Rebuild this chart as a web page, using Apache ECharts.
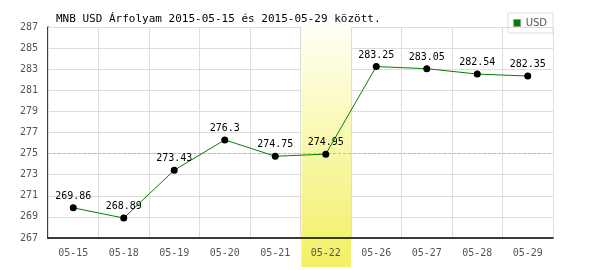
<!DOCTYPE html>
<html><head><meta charset="utf-8">
<script src="https://cdn.jsdelivr.net/npm/echarts@6/dist/echarts.min.js"></script>
<style>html,body{margin:0;padding:0;background:#fff}#c{width:600px;height:270px}</style>
</head><body><div id="c"></div>
<script>
const categories = ['05-15','05-18','05-19','05-20','05-21','05-22','05-26','05-27','05-28','05-29'];
const usdValues = [269.86, 268.89, 273.43, 276.3, 274.75, 274.95, 283.25, 283.05, 282.54, 282.35];
const yTicks = {min: 267, max: 287, interval: 2};
const averageLine = 275;
const highlightCategory = '05-22';
const titleText = 'MNB USD Árfolyam 2015-05-15 és 2015-05-29 között.';

const mono = 'DejaVu Sans Mono';
const chart = echarts.init(document.getElementById('c'));
chart.setOption({
  animation: false,
  title: {text: titleText, left: 51, top: 9, textStyle: {fontFamily: mono, fontSize: 11, fontWeight: 'normal', color: '#000'}},
  legend: {right: 47, top: 13, itemWidth: 7, itemHeight: 7, icon: 'rect', borderColor: '#ddd', borderWidth: 1, padding: [5,6,5,5],
    textStyle: {fontFamily: 'DejaVu Sans', fontSize: 10, color: '#555'}, itemGap: 2, data: [{name:'USD', itemStyle:{color:'#008000', borderColor:'#999', borderWidth:1}}]},
  grid: {left: 48, right: 47, top: 27, bottom: 32},
  xAxis: {type: 'category', data: categories, boundaryGap: true, z: 2,
    axisLine: {lineStyle: {color: '#000', width: 1.5}}, axisTick: {show: false},
    axisLabel: {fontFamily: mono, fontSize: 10, color: '#555', margin: 10},
    splitLine: {show: true, interval: 0, lineStyle: {color: '#ddd'}}},
  yAxis: {type: 'value', min: yTicks.min, max: yTicks.max, interval: yTicks.interval, z: 0,
    axisLine: {show: true, lineStyle: {color: '#000', width: 1.5}}, axisTick: {show: false},
    axisLabel: {fontFamily: mono, fontSize: 10, color: '#555', margin: 10},
    splitLine: {lineStyle: {color: '#ddd'}}},
  series: [{
    name: 'USD', type: 'line', data: usdValues, z: 5,
    lineStyle: {color: '#008000', width: 1}, itemStyle: {color: '#000'},
    symbol: 'circle', symbolSize: 7,
    label: {show: true, position: 'top', distance: 3, fontFamily: mono, fontSize: 10, color: '#000'}
  }, {
    name: 'avg', type: 'line', data: [], z: 0,
    markLine: {silent: true, symbol: 'none', label: {show: false}, lineStyle: {color: '#bbb', type: [3,2], width: 1}, data: [{yAxis: averageLine}]}
  }]
});
// highlight band for the selected day, extending below the axis
const x0 = chart.convertToPixel({xAxisIndex:0}, highlightCategory);
const yTop = chart.convertToPixel({yAxisIndex:0}, yTicks.max);
const yb = chart.convertToPixel({yAxisIndex:0}, yTicks.min);
const w = chart.getModel().getComponent('xAxis',0).axis.getBandWidth();
chart.setOption({graphic: [{type:'rect', z: 1, silent: true,
  shape:{x: x0 - w/2 + 1, y: yTop, width: w - 1, height: yb - yTop + 29},
  style:{fill: new echarts.graphic.LinearGradient(0,0,0,1,[{offset:0,color:'#fffff5'},{offset:1,color:'#f2f062'}])}}]});
</script></body></html>
